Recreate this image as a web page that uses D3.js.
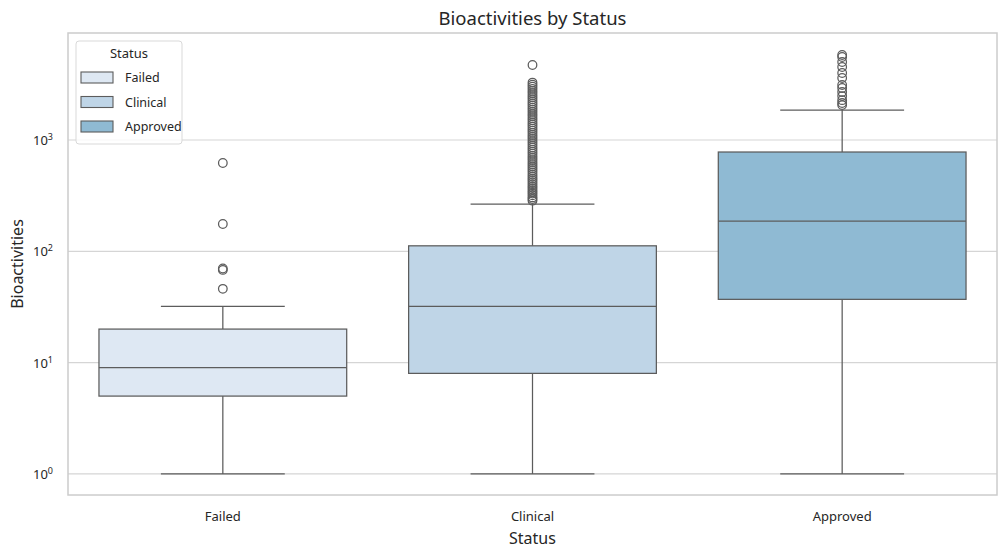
<!DOCTYPE html>
<html>
<head>
<meta charset="utf-8">
<script src="https://cdn.jsdelivr.net/npm/d3@7"></script>
<style>
  body { margin: 0; background: #fff; }
  text { font-family: "Noto Sans", Lato, sans-serif; fill: #262626; }
</style>
</head>
<body>
<svg id="chart" width="1007" height="560"></svg>
<script>
// categories and box statistics
var categories = ["Failed", "Clinical", "Approved"];
var colours = ["#dee8f3", "#bfd5e7", "#8fbad3"];
var q1 = [5, 8, 37];
var medians = [9, 32, 187];
var q3 = [20, 112, 780];
var whiskerLow = [1, 1, 1];
var whiskerHigh = [32, 266, 1860];
var outliersFailed = [46, 68, 70, 176, 621];
var outliersClinical = [285, 295, 305, 318, 330, 342, 355, 370, 385, 400, 418, 435, 452, 470, 490,
  512, 535, 558, 580, 605, 632, 660, 690, 720, 752, 785, 820, 856, 895, 935, 975, 1020, 1065,
  1110, 1160, 1210, 1265, 1320, 1380, 1440, 1505, 1570, 1640, 1710, 1790, 1870, 1950, 2040,
  2130, 2220, 2320, 2420, 2530, 2640, 2760, 2880, 3010, 3140, 3280, 4720];
var outliersApproved = [2060, 2150, 2280, 2480, 2700, 2930, 3120, 3610, 4000, 4530, 5020, 5570, 5800];
var outliers = [outliersFailed, outliersClinical, outliersApproved];
var yTicks = [1, 10, 100, 1000];

var svg = d3.select("#chart"),
    plotLeft = 68, plotRight = 997, plotTop = 33, plotBottom = 495,
    lineColour = "#5c5c5c";

var x = d3.scaleBand()
          .domain(categories)
          .range([plotLeft, plotRight])
          .paddingInner(0)
          .paddingOuter(0);
var y = d3.scaleLog()
          .domain([0.646, 9150])
          .range([plotBottom, plotTop]);

//Grid lines
svg.selectAll("line.grid")
   .data(yTicks)
   .enter()
   .append("line")
   .attr("class", "grid")
   .attr("x1", plotLeft).attr("x2", plotRight)
   .attr("y1", function(d) { return y(d); })
   .attr("y2", function(d) { return y(d); })
   .attr("stroke", "#d5d5d5")
   .attr("stroke-width", 1.2);

//Tick labels with superscripts
var yl = svg.selectAll("text.ytick")
   .data(yTicks)
   .enter()
   .append("text")
   .attr("class", "ytick")
   .attr("x", 53)
   .attr("y", function(d) { return y(d) + 5; })
   .attr("text-anchor", "end")
   .style("font-size", "13px");
yl.append("tspan").text("10");
yl.append("tspan")
  .attr("dy", -5)
  .style("font-size", "9px")
  .text(function(d) { return Math.round(Math.log10(d)); });

var bw = x.bandwidth() * 0.8;
var g = svg.selectAll("g.box")
   .data(categories)
   .enter()
   .append("g")
   .attr("class", "box");

//Whiskers
g.append("line")
 .attr("x1", function(d) { return x(d) + x.bandwidth() / 2; })
 .attr("x2", function(d) { return x(d) + x.bandwidth() / 2; })
 .attr("y1", function(d, i) { return y(whiskerLow[i]); })
 .attr("y2", function(d, i) { return y(q1[i]); })
 .attr("stroke", lineColour).attr("stroke-width", 1.25);
g.append("line")
 .attr("x1", function(d) { return x(d) + x.bandwidth() / 2; })
 .attr("x2", function(d) { return x(d) + x.bandwidth() / 2; })
 .attr("y1", function(d, i) { return y(q3[i]); })
 .attr("y2", function(d, i) { return y(whiskerHigh[i]); })
 .attr("stroke", lineColour).attr("stroke-width", 1.25);
[whiskerLow, whiskerHigh].forEach(function(arr) {
  g.append("line")
   .attr("x1", function(d) { return x(d) + x.bandwidth() / 2 - bw / 4; })
   .attr("x2", function(d) { return x(d) + x.bandwidth() / 2 + bw / 4; })
   .attr("y1", function(d, i) { return y(arr[i]); })
   .attr("y2", function(d, i) { return y(arr[i]); })
   .attr("stroke", lineColour).attr("stroke-width", 1.25);
});

//Boxes
g.append("rect")
 .attr("x", function(d) { return x(d) + (x.bandwidth() - bw) / 2; })
 .attr("width", bw)
 .attr("y", function(d, i) { return y(q3[i]); })
 .attr("height", function(d, i) { return y(q1[i]) - y(q3[i]); })
 .attr("fill", function(d, i) { return colours[i]; })
 .attr("stroke", lineColour).attr("stroke-width", 1.25);
g.append("line")
 .attr("x1", function(d) { return x(d) + (x.bandwidth() - bw) / 2; })
 .attr("x2", function(d) { return x(d) + (x.bandwidth() + bw) / 2; })
 .attr("y1", function(d, i) { return y(medians[i]); })
 .attr("y2", function(d, i) { return y(medians[i]); })
 .attr("stroke", lineColour).attr("stroke-width", 1.25);

//Outliers
g.each(function(d, i) {
  d3.select(this).selectAll("circle")
    .data(outliers[i])
    .enter()
    .append("circle")
    .attr("cx", x(d) + x.bandwidth() / 2)
    .attr("cy", function(v) { return y(v); })
    .attr("r", 4.3)
    .attr("fill", "none")
    .attr("stroke", lineColour)
    .attr("stroke-width", 1.25);
});

//Frame
svg.append("rect")
   .attr("x", plotLeft).attr("y", plotTop)
   .attr("width", plotRight - plotLeft).attr("height", plotBottom - plotTop)
   .attr("fill", "none")
   .attr("stroke", "#cccccc")
   .attr("stroke-width", 1.5);

//X tick labels
svg.selectAll("text.xtick")
   .data(categories)
   .enter()
   .append("text")
   .attr("class", "xtick")
   .attr("x", function(d) { return x(d) + x.bandwidth() / 2; })
   .attr("y", 521)
   .attr("text-anchor", "middle")
   .style("font-size", "13px")
   .text(function(d) { return d; });

//Axis titles and chart title
svg.append("text")
   .attr("x", (plotLeft + plotRight) / 2)
   .attr("y", 544)
   .attr("text-anchor", "middle")
   .style("font-size", "16px")
   .text("Status");
svg.append("text")
   .attr("transform", "translate(23," + ((plotTop + plotBottom) / 2) + ") rotate(-90)")
   .attr("text-anchor", "middle")
   .style("font-size", "16px")
   .text("Bioactivities");
svg.append("text")
   .attr("x", (plotLeft + plotRight) / 2)
   .attr("y", 25)
   .attr("text-anchor", "middle")
   .style("font-size", "18.5px")
   .text("Bioactivities by Status");

//Legend
var legend = svg.append("g").attr("transform", "translate(76,41)");
legend.append("rect")
      .attr("width", 106).attr("height", 103)
      .attr("rx", 3)
      .attr("fill", "#fff").attr("fill-opacity", 0.8)
      .attr("stroke", "#d9d9d9");
legend.append("text")
      .attr("x", 53).attr("y", 17)
      .attr("text-anchor", "middle")
      .style("font-size", "13px")
      .text("Status");
var items = legend.selectAll("g.item")
      .data(categories)
      .enter()
      .append("g")
      .attr("class", "item")
      .attr("transform", function(d, i) { return "translate(5," + (31 + i * 24.5) + ")"; });
items.append("rect")
     .attr("width", 32).attr("height", 11)
     .attr("fill", function(d, i) { return colours[i]; })
     .attr("stroke", lineColour).attr("stroke-width", 1.1);
items.append("text")
     .attr("x", 44).attr("y", 10)
     .style("font-size", "12.5px")
     .text(function(d) { return d; });
</script>
</body>
</html>
